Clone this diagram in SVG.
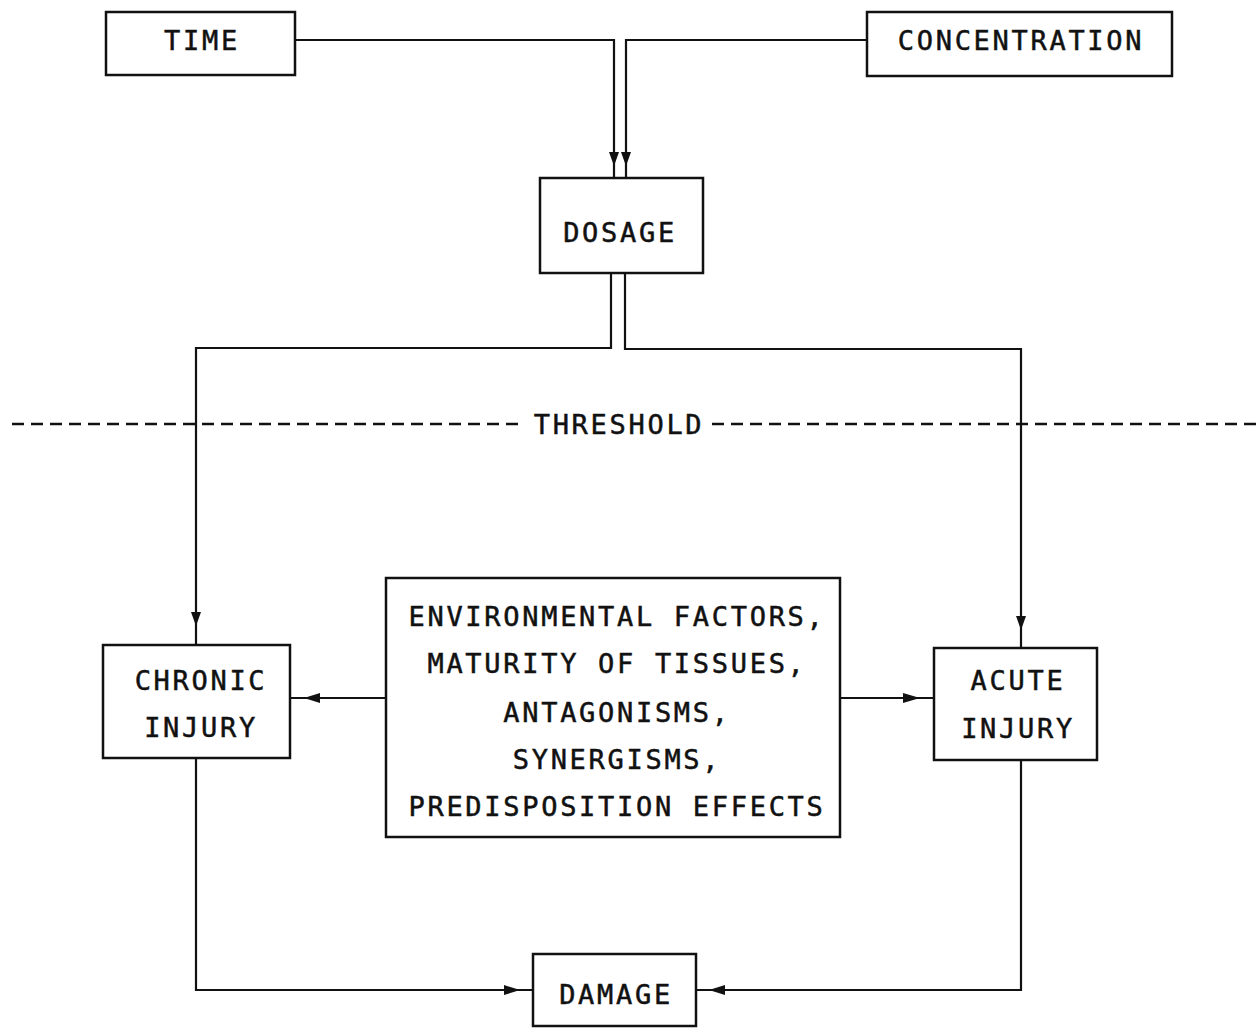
<svg xmlns="http://www.w3.org/2000/svg" width="1256" height="1028" viewBox="0 0 1256 1028">
<style>
.box{fill:none;stroke:#111;stroke-width:2.5}
.ln{fill:none;stroke:#111;stroke-width:2.2}
.dash{fill:none;stroke:#111;stroke-width:2.5;stroke-dasharray:12 7}
text{font-family:"DejaVu Sans Mono","Liberation Mono",monospace;font-size:27px;fill:#111;stroke:#111;stroke-width:0.5;text-anchor:middle;letter-spacing:2.7px}
.ah{fill:#111}
</style>
<rect width="1256" height="1028" fill="#fff"/>
<g id="connectors">
<path class="ln" d="M295,40 H614 V178"/>
<path class="ln" d="M867,40 H626 V178"/>
<polygon class="ah" points="609,152 619,152 614,166"/>
<polygon class="ah" points="621,152 631,152 626,166"/>
<path class="ln" d="M611,273 V348 H196 V645"/>
<polygon class="ah" points="191,612 201,612 196,626"/>
<path class="ln" d="M625,273 V349 H1021 V648"/>
<polygon class="ah" points="1016,616 1026,616 1021,630"/>
<path class="ln" d="M386,698 H290"/>
<polygon class="ah" points="320,693 320,703 304,698"/>
<path class="ln" d="M840,698 H934"/>
<polygon class="ah" points="903,693 903,703 920,698"/>
<path class="ln" d="M196,758 V990 H533"/>
<polygon class="ah" points="504,985 504,995 520,990"/>
<path class="ln" d="M1021,760 V990 H696"/>
<polygon class="ah" points="725,985 725,995 709,990"/>
<path class="dash" d="M12,424 H522"/>
<path class="dash" d="M712,424 H1256"/>
</g>
<g id="time"><rect class="box" x="106" y="12" width="189" height="63"/><text x="202" y="50">TIME</text></g>
<g id="concentration"><rect class="box" x="867" y="12" width="305" height="64"/><text x="1021" y="50">CONCENTRATION</text></g>
<g id="dosage"><rect class="box" x="540" y="178" width="163" height="95"/><text x="620" y="242">DOSAGE</text></g>
<g id="threshold"><text x="619" y="434">THRESHOLD</text></g>
<g id="chronic"><rect class="box" x="103" y="645" width="187" height="113"/><text x="201" y="690">CHRONIC</text><text x="201" y="737">INJURY</text></g>
<g id="acute"><rect class="box" x="934" y="648" width="163" height="112"/><text x="1018" y="690">ACUTE</text><text x="1018" y="738">INJURY</text></g>
<g id="factors"><rect class="box" x="386" y="578" width="454" height="259"/>
<text x="617" y="626">ENVIRONMENTAL FACTORS,</text>
<text x="617" y="673">MATURITY OF TISSUES,</text>
<text x="617" y="722">ANTAGONISMS,</text>
<text x="617" y="769">SYNERGISMS,</text>
<text x="617" y="816">PREDISPOSITION EFFECTS</text>
</g>
<g id="damage"><rect class="box" x="533" y="954" width="163" height="72"/><text x="616" y="1004">DAMAGE</text></g>
</svg>
